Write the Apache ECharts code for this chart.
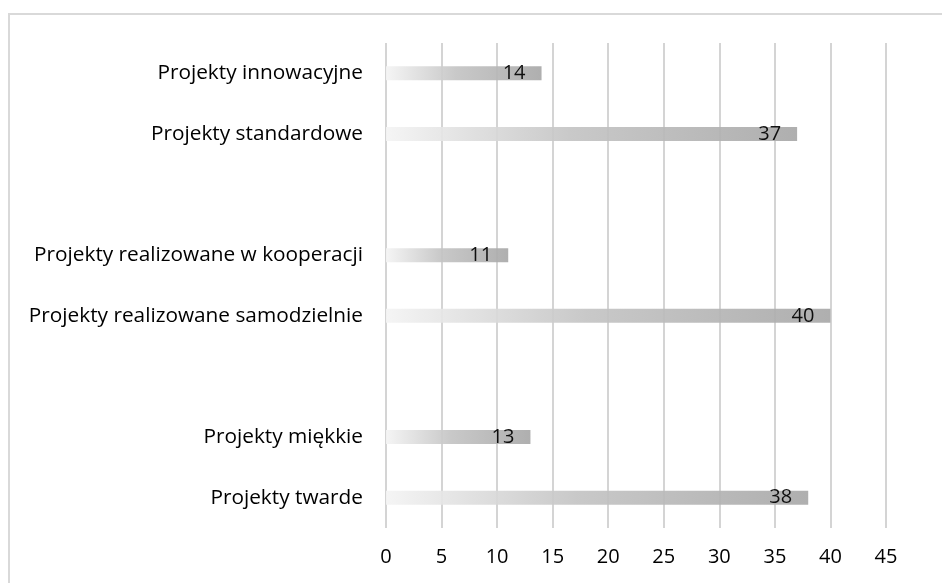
<!DOCTYPE html>
<html>
<head>
<meta charset="utf-8">
<script src="https://cdn.jsdelivr.net/npm/echarts@6/dist/echarts.min.js"></script>
<style>
  html, body { margin: 0; padding: 0; background: #fff; }
  #chart { width: 942px; height: 583px; }
</style>
</head>
<body>
<div id="chart"></div>
<script>
// Project categories, top to bottom; blank entries are spacer rows between groups
const categories = [
  'Projekty innowacyjne',
  'Projekty standardowe',
  '',
  'Projekty realizowane w kooperacji',
  'Projekty realizowane samodzielnie',
  ' ',
  'Projekty miękkie',
  'Projekty twarde'
];
const values = [14, 37, null, 11, 40, null, 13, 38];
const xTicks = [0, 5, 10, 15, 20, 25, 30, 35, 40, 45];

const FONT = 'Open Sans';

const chart = echarts.init(document.getElementById('chart'), null, { renderer: 'canvas' });
chart.setOption({
  backgroundColor: '#ffffff',
  animation: false,
  graphic: [{
    type: 'rect',
    shape: { x: 9, y: 14, width: 1000, height: 1000 },
    style: { fill: 'none', stroke: '#d9d9d9', lineWidth: 2 },
    z: 0
  }],
  grid: { left: 386, right: 56, top: 43, bottom: 55, containLabel: false },
  xAxis: {
    type: 'value',
    min: xTicks[0],
    max: xTicks[xTicks.length - 1],
    interval: 5,
    axisLine: { show: false },
    axisTick: { show: false },
    splitLine: { show: true, lineStyle: { color: '#d4d4d4', width: 2 } },
    axisLabel: {
      margin: 19,
      fontFamily: FONT,
      fontSize: 20,
      color: '#000'
    }
  },
  yAxis: {
    type: 'category',
    inverse: true,
    data: categories,
    axisLine: { show: false },
    axisTick: { show: false },
    axisLabel: {
      margin: 23,
      fontFamily: FONT,
      fontSize: 20.8,
      color: '#000'
    }
  },
  series: [{
    type: 'bar',
    data: values,
    barWidth: 14,
    itemStyle: {
      opacity: 0.92,
      color: new echarts.graphic.LinearGradient(0, 0, 1, 0, [
        { offset: 0, color: '#f4f4f4' },
        { offset: 0.45, color: '#c4c4c4' },
        { offset: 1, color: '#a8a8a8' }
      ])
    },
    label: {
      show: true,
      position: 'insideRight',
      distance: 16,
      fontFamily: FONT,
      fontSize: 20,
      color: '#000'
    }
  }]
});
</script>
</body>
</html>
